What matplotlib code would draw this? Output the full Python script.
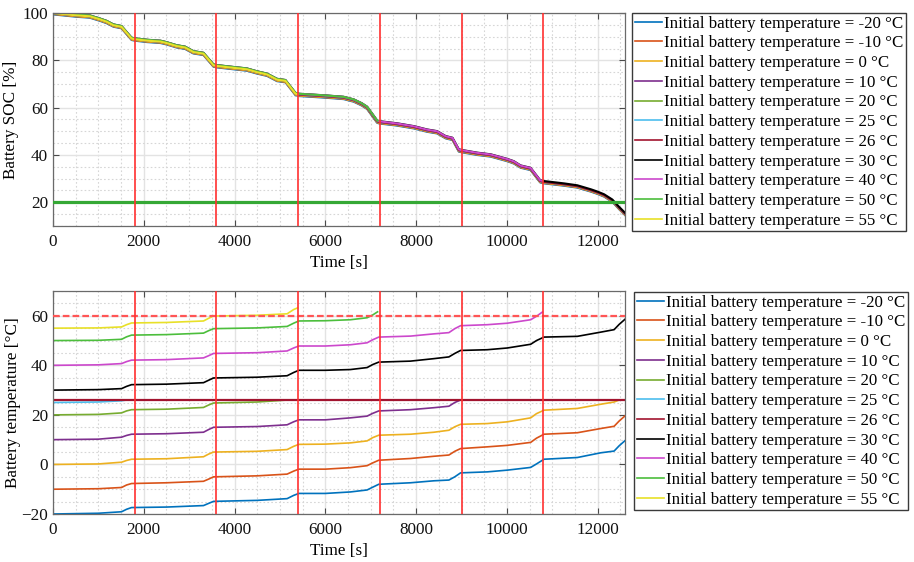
import numpy as np
import matplotlib
matplotlib.use("Agg")
import matplotlib.pyplot as plt
from matplotlib.ticker import MultipleLocator

plt.rcParams['font.family'] = ['Liberation Serif', 'DejaVu Serif']
plt.rcParams['font.size'] = 12
plt.rcParams['mathtext.fontset'] = 'stix'

# ---------------- data ----------------
init_temps = [-20, -10, 0, 10, 20, 25, 26, 30, 40, 50, 55]
labels = [f"Initial battery temperature = {v} °C" for v in init_temps]
colors = ['#0072BD', '#D95319', '#EDB120', '#7E2F8E', '#77AC30', '#4DBEEE',
          '#A2142F', '#000000', '#CC48CC', '#4CBE3C', '#E8E028']

# drive cycle boundaries [s]
cycle_bounds = [1800, 3600, 5400, 7200, 9000, 10800]
soc_min = 20
temp_max = 60

# SOC profile (shared by all runs)
t_soc = [0, 515, 810, 1030, 1180, 1330, 1510, 1730, 1800, 2075, 2370, 2500, 2725, 2910,
         3090, 3315, 3535, 3610, 3980, 4270, 4490, 4715, 4935, 5120, 5340, 5415, 6000,
         6404, 6625, 6800, 6920, 7140, 7190, 7580, 7950, 8240, 8460, 8650, 8800, 8940,
         9015, 9345, 9640, 10000, 10150, 10300, 10520, 10730, 10815, 11260, 11550, 11850,
         12000, 12140, 12320, 12470, 12600]
soc = [100, 99, 98.6, 97.3, 96.3, 94.8, 94.1, 89.2, 88.9, 88.3, 87.9, 87.3, 86.0, 85.4,
       83.5, 82.8, 77.9, 77.6, 76.8, 76.2, 75.0, 74.0, 71.8, 71.3, 65.9, 65.5, 64.8,
       64.2, 63.1, 61.5, 60.0, 54.2, 53.9, 53.0, 51.8, 50.4, 49.7, 47.6, 46.9, 42.0,
       41.7, 40.6, 39.9, 38.0, 37.0, 35.2, 34.2, 29.0, 28.6, 27.6, 26.8, 25.1,
       24.1, 23.0, 20.8, 17.7, 15.2]
# small per-run SOC differences and end time of each run [s]
soc_shift = [-0.6, -0.4, -0.3, 0.0, 0.0, 0.0, 0.0, 0.4, 0.3, 0.35, 0.0]
run_end = [12600, 12600, 12600, 12600, 12600, 12600, 12600, 12600, 10780, 7150, 5390]

# battery temperatures
tk = [0, 1000, 1510, 1620, 1730, 2500, 3315, 3430, 3536, 4500, 5157, 5300, 5414, 6000,
      6551, 6919, 7040, 7176, 7875, 8390, 8721, 8850, 8978, 9566, 10007, 10522, 10650,
      10816, 11551, 12066, 12360, 12470, 12600]
temp_m20 = [-20, -19.7, -19.1, -18.1, -17.4, -17.2, -16.6, -15.7, -14.9, -14.5, -13.8,
            -12.5, -11.7, -11.7, -11.1, -10.3, -9.2, -8.0, -7.4, -6.6, -6.3, -5.0, -3.4,
            -3.0, -2.3, -1.2, 0.2, 2.1, 2.8, 4.7, 5.4, 7.5, 9.6]
temp_m10 = [-10, -9.8, -9.3, -8.3, -7.7, -7.4, -6.8, -5.9, -5.0, -4.6, -3.9, -2.7, -1.9,
            -1.9, -1.3, -0.5, 0.6, 1.7, 2.4, 3.3, 3.8, 5.3, 6.4, 7.1, 7.7, 8.9, 10.6,
            12.2, 12.8, 14.5, 15.4, 17.5, 19.6]
temp_0 = [0, 0.2, 0.9, 1.6, 2.1, 2.3, 3.1, 4.2, 5.0, 5.3, 6.0, 7.3, 8.1, 8.2, 8.7, 9.5,
          10.8, 11.8, 12.2, 13.0, 13.8, 15.2, 16.2, 16.5, 17.2, 18.8, 20.5, 21.9, 22.6,
          24.3, 25.2, 26.0, 26.0]
t_10 = [0, 1000, 1510, 1620, 1730, 2500, 3315, 3430, 3536, 4500, 5157, 5300, 5414, 6000,
        6551, 6919, 7040, 7176, 7875, 8390, 8721, 8850, 8978, 12600]
temp_10 = [10, 10.2, 11.0, 11.7, 12.2, 12.4, 13.0, 14.1, 15.0, 15.3, 16.0, 17.2, 18.0,
           18.0, 18.8, 19.5, 20.6, 21.6, 22.1, 22.9, 23.5, 25.0, 26.0, 26.0]
t_20 = [0, 1000, 1510, 1620, 1730, 2500, 3315, 3430, 3536, 4500, 5157, 12600]
temp_20 = [20, 20.2, 20.8, 21.6, 22.1, 22.3, 23.0, 24.0, 24.8, 25.2, 26.0, 26.0]
t_25 = [0, 1000, 1510, 1620, 12600]
temp_25 = [25, 25.2, 25.7, 26.0, 26.0]
t_26 = [0, 12600]
temp_26 = [26, 26]
temp_30 = [30, 30.2, 30.6, 31.5, 32.2, 32.4, 33.0, 34.0, 34.9, 35.2, 35.8, 37.1, 38.0,
           38.0, 38.3, 39.1, 40.3, 41.3, 41.7, 42.7, 43.4, 44.8, 46.0, 46.3, 47.0, 48.5,
           50.0, 51.4, 51.7, 53.4, 54.4, 56.5, 58.6]
t_40 = [0, 1000, 1510, 1620, 1730, 2500, 3315, 3430, 3536, 4500, 5157, 5300, 5414, 6000,
        6551, 6919, 7040, 7176, 7875, 8390, 8721, 8850, 8978, 9566, 10007, 10522, 10650,
        10780]
temp_40 = [40, 40.2, 40.7, 41.5, 42.1, 42.3, 43.0, 43.9, 44.8, 45.1, 45.8, 47.0, 47.8,
           47.8, 48.3, 49.1, 50.3, 51.4, 51.8, 52.7, 53.2, 54.8, 56.0, 56.4, 57.0, 58.4,
           59.8, 61.5]
t_50 = [0, 1000, 1510, 1620, 1730, 2500, 3315, 3430, 3536, 4500, 5157, 5300, 5414, 6000,
        6551, 6919, 7040, 7150]
temp_50 = [50, 50.1, 50.5, 51.5, 52.2, 52.4, 53.0, 54.0, 54.8, 55.1, 55.7, 57.0, 57.9,
           58.0, 58.4, 59.2, 60.3, 61.6]
t_55 = [0, 1000, 1510, 1620, 1730, 2500, 3315, 3430, 3536, 4500, 5157, 5300, 5390]
temp_55 = [55, 55.1, 55.5, 56.4, 57.1, 57.3, 57.9, 59.0, 59.9, 60.2, 60.8, 62.5, 63.2]

temp_series = [(tk, temp_m20), (tk, temp_m10), (tk, temp_0), (t_10, temp_10),
               (t_20, temp_20), (t_25, temp_25), (t_26, temp_26), (tk, temp_30),
               (t_40, temp_40), (t_50, temp_50), (t_55, temp_55)]

# ---------------- figure ----------------
W, H = 914, 562
fig = plt.figure(figsize=(W / 100, H / 100), dpi=100)

def fx(px):
    return px / W

def fy(py):
    return 1 - py / H

AX_L, AX_R = 53, 625
ax1 = fig.add_axes([fx(AX_L), fy(226), fx(AX_R) - fx(AX_L), fy(13) - fy(226)])
ax2 = fig.add_axes([fx(AX_L), fy(514), fx(AX_R) - fx(AX_L), fy(291) - fy(514)])

def style(ax):
    ax.set_xlim(0, 12600)
    ax.xaxis.set_major_locator(MultipleLocator(2000))
    ax.xaxis.set_minor_locator(MultipleLocator(500))
    ax.yaxis.set_major_locator(MultipleLocator(20))
    ax.yaxis.set_minor_locator(MultipleLocator(5))
    ax.grid(True, which='major', color='#e3e3e3', lw=1.0, ls='-')
    ax.grid(True, which='minor', color='#d6d6d6', lw=0.8, ls=(0, (1.5, 2.0)))
    ax.set_axisbelow(True)
    for s in ax.spines.values():
        s.set_color('#6a6a6a')
        s.set_linewidth(0.9)
    ax.tick_params(which='both', direction='in', top=True, right=True,
                   colors='#4a4a4a', labelcolor='#111111', labelsize=12.3)
    ax.tick_params(axis='x', which='major', length=4, pad=6)
    ax.tick_params(axis='y', which='major', length=4, pad=3.5)
    ax.tick_params(which='minor', length=0)
    ax.set_xlabel('Time [s]', fontsize=12.3, labelpad=3.5)

# ---- top: SOC ----
style(ax1)
ax1.set_ylim(10, 100)
t_soc_arr = np.array(t_soc)
soc_arr = np.array(soc)
handles1 = []
for i in range(len(init_temps)):
    te = run_end[i]
    mask = t_soc_arr < te
    tt = np.append(t_soc_arr[mask], te)
    ss = np.append(soc_arr[mask], np.interp(te, t_soc_arr, soc_arr)) + soc_shift[i]
    h, = ax1.plot(tt, np.minimum(ss, 100), color=colors[i], lw=1.5, label=labels[i],
                  solid_joinstyle='round')
    handles1.append(h)
ax1.axhline(soc_min, color='#35A835', lw=2.3, zorder=3)
for xb in cycle_bounds:
    ax1.axvline(xb, color='#ff3030', lw=1.2, zorder=4)
ax1.set_ylabel('Battery SOC [%]', fontsize=12.3)
ax1.yaxis.set_label_coords((19 - AX_L) / (AX_R - AX_L), 0.5)

# ---- bottom: temperature ----
style(ax2)
ax2.set_ylim(-20, 70)
handles2 = []
for i, (tt, vv) in enumerate(temp_series):
    h, = ax2.plot(tt, vv, color=colors[i], lw=1.6 if init_temps[i] == 26 else 1.2,
                  label=labels[i], solid_joinstyle='round')
    handles2.append(h)
ax2.axhline(temp_max, color='#ff5555', lw=1.6, ls=(0, (3, 1.4)), zorder=3)
for xb in cycle_bounds:
    ax2.axvline(xb, color='#ff3030', lw=1.2, zorder=4)
ax2.set_ylabel('Battery temperature [°C]', fontsize=12.3)
ax2.yaxis.set_label_coords((21 - AX_L) / (AX_R - AX_L), 0.5)

def add_legend(ax, handles, x0, y0):
    leg = ax.legend(handles=handles, loc='upper left', bbox_to_anchor=(fx(x0), fy(y0)),
                    bbox_transform=fig.transFigure, borderaxespad=0, fontsize=12.2,
                    frameon=True, fancybox=False, framealpha=1, edgecolor='#3a3a3a',
                    handlelength=1.6, handletextpad=0.15, labelspacing=0.22,
                    borderpad=0.15)
    leg.get_frame().set_linewidth(1.0)
    for ln in leg.get_lines():
        ln.set_linewidth(1.2)
    return leg

add_legend(ax1, handles1, 632, 13)
add_legend(ax2, handles2, 634, 292)

fig.savefig('out.png', dpi=100)
